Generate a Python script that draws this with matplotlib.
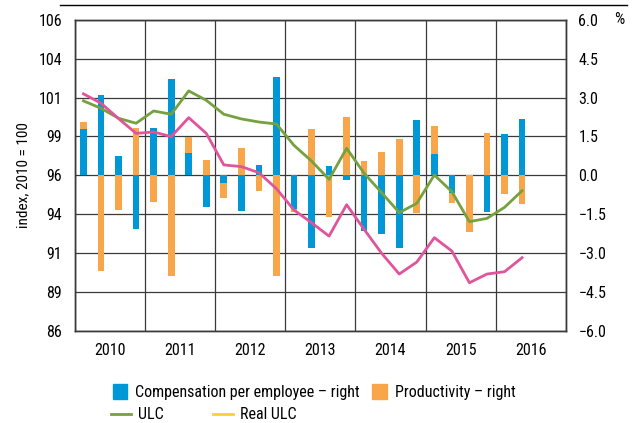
import numpy as np
import matplotlib
matplotlib.use("Agg")
import matplotlib.pyplot as plt
from matplotlib.lines import Line2D
from matplotlib.patches import Patch

plt.rcParams['font.family'] = ['Roboto Condensed', 'DejaVu Sans']

# quarters 2010Q1 .. 2016Q2
years = ['2010', '2011', '2012', '2013', '2014', '2015', '2016']

comp = [1.79, 3.10, 0.75, -2.08, 1.81, 3.71, 0.88, -1.21,
        -0.31, -1.38, 0.39, 3.81, -1.30, -2.82, 0.35, -0.19,
        -2.14, -2.28, -2.79, 2.15, 0.84, -0.67, 0.03, -1.40,
        1.58, 2.19]
prod = [0.27, -3.69, -1.34, 1.84, -1.04, -3.90, 0.59, 0.58,
        -0.57, 1.07, -0.59, -3.90, -0.12, 1.80, -1.62, 2.25,
        0.57, 0.90, 1.42, -1.47, 1.05, -0.39, -2.19, 1.62,
        -0.73, -1.11]
ulc = [100.79, 100.31, 99.67, 99.35, 100.14, 99.93, 101.43, 100.83,
       99.93, 99.63, 99.43, 99.30, 97.93, 96.92, 95.74, 97.74,
       96.13, 94.88, 93.60, 94.20, 96.02, 94.95, 93.02, 93.23,
       93.94, 95.01]
real_ulc = [101.24, 100.64, 99.65, 98.70, 98.79, 98.49, 99.71, 98.70,
            96.67, 96.56, 96.17, 95.14, 93.77, 92.95, 92.09, 94.11,
            92.52, 90.98, 89.65, 90.42, 91.99, 91.13, 89.09, 89.65,
            89.80, 90.70]

left_ticks = [86, 88.5, 91, 93.5, 96, 98.5, 101, 103.5, 106]
left_labels = ['86', '89', '91', '94', '96', '99', '101', '104', '106']
right_ticks = [-6, -4.5, -3, -1.5, 0, 1.5, 3, 4.5, 6]
right_labels = ['\u22126.0', '\u22124.5', '\u22123.0', '\u22121.5', '0.0',
                '1.5', '3.0', '4.5', '6.0']

blue = '#0097d7'
orange = '#f9a64a'
green = '#76a13f'
pink = '#e0549c'
yellow = '#f7d334'
grid_c = '#3a3a3a'

comp = np.array(comp)
prod = np.array(prod)
x = np.arange(len(comp))
# productivity stacked outward from compensation when same sign
prod_bottom = np.where(np.sign(prod) == np.sign(comp), comp, 0)

fig = plt.figure(figsize=(6.33, 4.23), dpi=100)
ax = fig.add_axes([0.118, 0.218, 0.776, 0.735])
ax2 = ax.twinx()

ax.bar(x, comp, width=0.38, color=blue, zorder=3)
ax.bar(x, prod, width=0.38, bottom=prod_bottom, color=orange, zorder=3)
ax2.plot(x, ulc, color=green, lw=2, zorder=4)
ax2.plot(x, real_ulc, color=pink, lw=2, zorder=4)

ax.set_xlim(-0.5, 27.5)
ax.set_ylim(-6, 6)
ax2.set_ylim(86, 106)

ax.yaxis.tick_right()
ax.set_yticks(right_ticks)
ax.set_yticklabels(right_labels)
ax2.yaxis.tick_left()
ax2.set_yticks(left_ticks)
ax2.set_yticklabels(left_labels)
ax2.set_ylabel('index, 2010 = 100', fontsize=11, labelpad=6)
ax2.yaxis.set_label_position('left')

ax.set_xticks(np.arange(-0.5, 28, 4))
ax.set_xticklabels([])
ax.set_xticks(np.arange(1.5, 28, 4), minor=True)
ax.set_xticklabels(years, minor=True)

for a in (ax, ax2):
    a.tick_params(which='both', length=0, labelsize=11.5, pad=9)
    for s in a.spines.values():
        s.set_color(grid_c)
        s.set_linewidth(1)
ax.grid(True, color=grid_c, lw=0.9, zorder=0)
ax.set_axisbelow(True)

fig.text(0.978, 0.953, '%', fontsize=11.5, ha='center', va='center')
fig.add_artist(Line2D([0.095, 0.99], [0.988, 0.988], color='black', lw=1))

handles = [Patch(color=blue), Patch(color=orange),
           Line2D([], [], color=green, lw=2), Line2D([], [], color=yellow, lw=2)]
labels = ['Compensation per employee \u2013 right', 'Productivity \u2013 right',
          'ULC', 'Real ULC']
fig.legend(handles[:2], labels[:2], loc='center left', bbox_to_anchor=(0.178, 0.073),
           ncol=2, frameon=False, fontsize=11.5, handlelength=0.9, handleheight=1.1,
           columnspacing=0.8, handletextpad=0.5, borderaxespad=0, borderpad=0)
fig.legend(handles[2:], labels[2:], loc='center left', bbox_to_anchor=(0.175, 0.019),
           ncol=2, frameon=False, fontsize=11.5, handlelength=1.25,
           columnspacing=3.1, handletextpad=0.45, borderaxespad=0, borderpad=0)

fig.savefig('out.png', dpi=100)
